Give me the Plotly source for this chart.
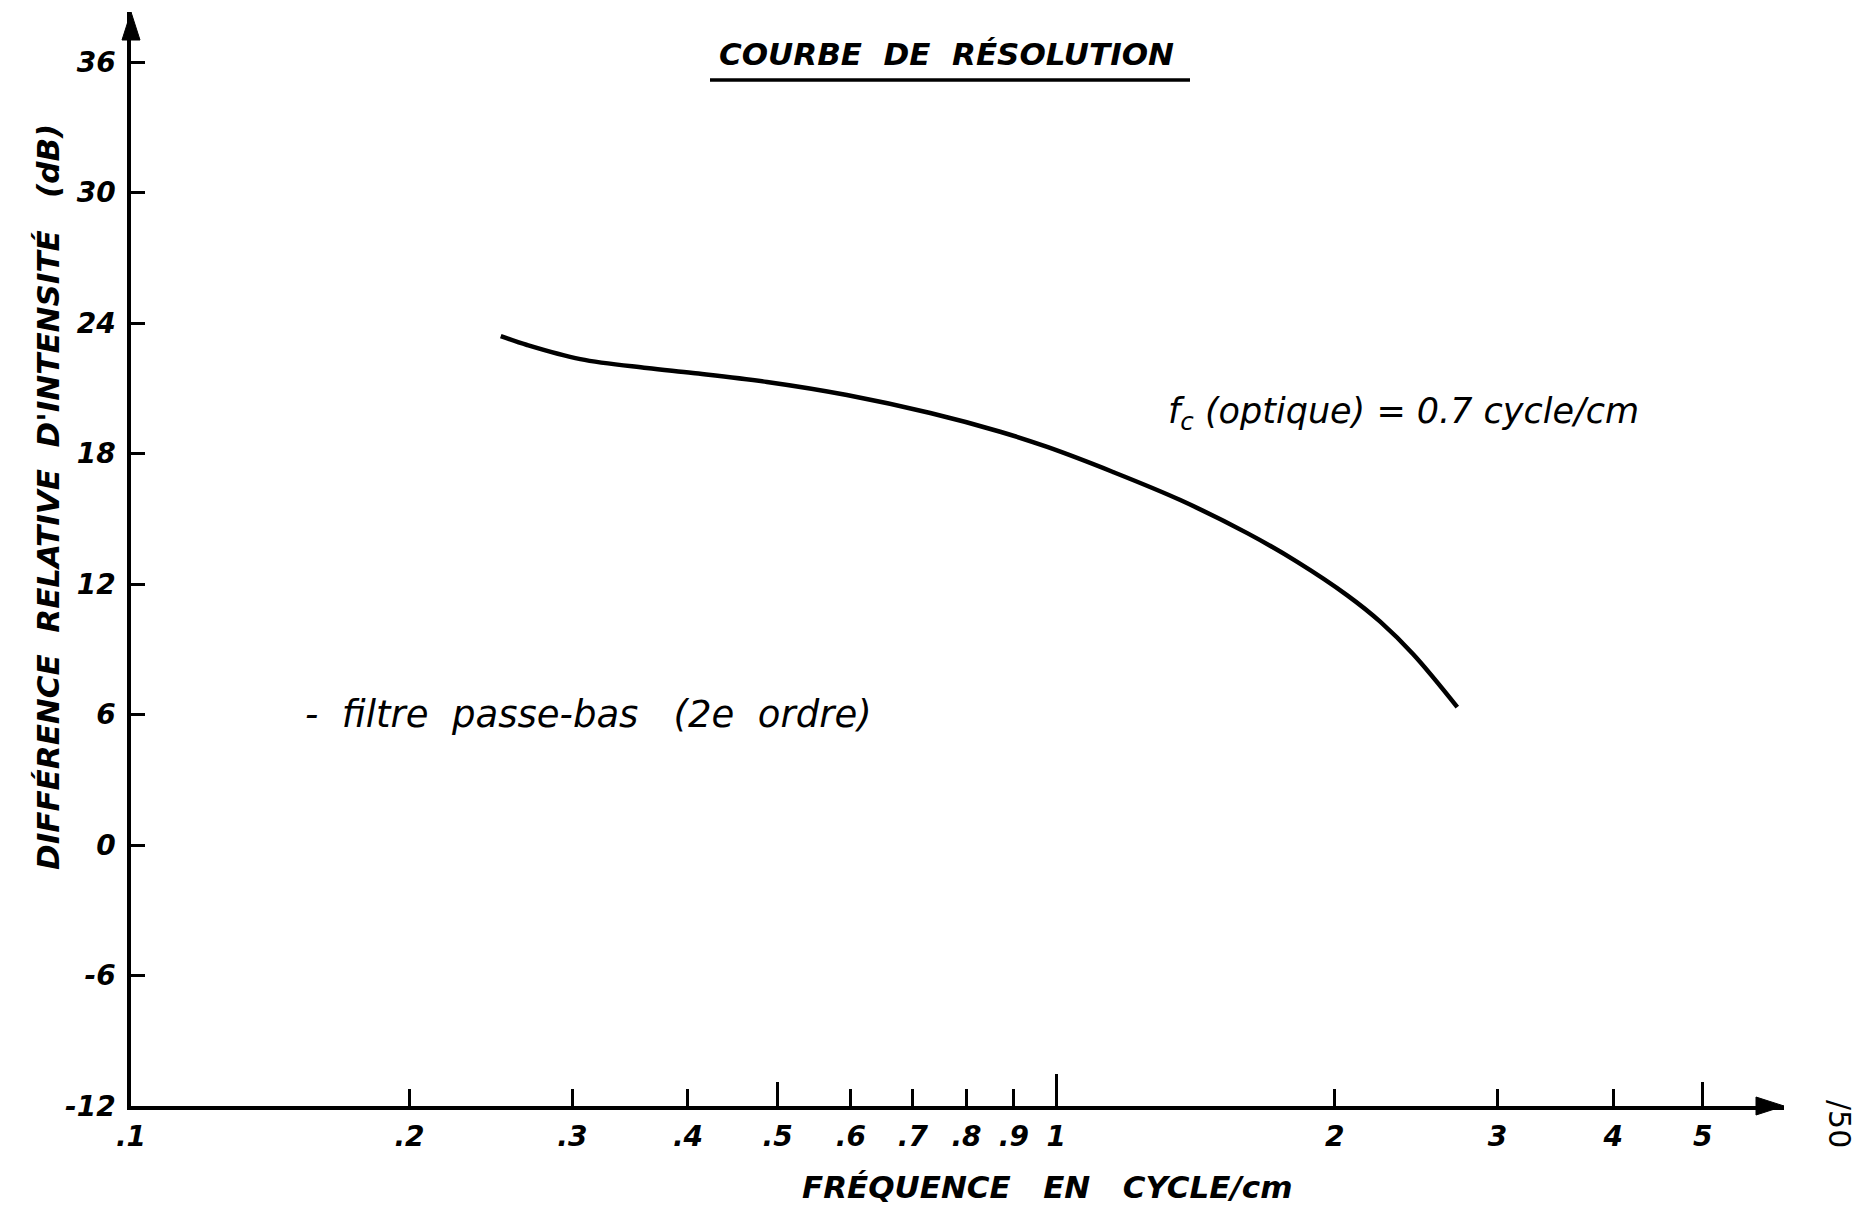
import math
import plotly.graph_objects as go

# Résolution : différence relative d'intensité en fonction de la fréquence
freq_cycle_cm = [0.251, 0.268, 0.306, 0.361, 0.405, 0.487, 0.594, 0.731, 0.870,
                 0.978, 1.152, 1.362, 1.609, 1.822, 2.064, 2.240, 2.432, 2.714]
diff_db = [23.40, 22.99, 22.34, 21.93, 21.70, 21.29, 20.69, 19.86, 19.00,
           18.30, 17.15, 15.86, 14.34, 13.02, 11.48, 10.27, 8.77, 6.34]

x_tick_vals = [0.1, 0.2, 0.3, 0.4, 0.5, 0.6, 0.7, 0.8, 0.9, 1, 2, 3, 4, 5]
x_tick_text = [".1", ".2", ".3", ".4", ".5", ".6", ".7", ".8", ".9", "1", "2", "3", "4", "5"]
x_mid_ticks = [0.5, 5]
x_decade_ticks = [1]
y_tick_vals = [-12, -6, 0, 6, 12, 18, 24, 30, 36]
y_tick_text = ["-12", "-6", "0", "6", "12", "18", "24", "30", "36"]

x_range = [math.log10(0.1), math.log10(6.12)]
y_range = [-12, 38.3]

INK = "#000000"
HAND = "DejaVu Sans, Liberation Sans, sans-serif"

# plot area in pixels (used to place the free-standing labels)
W, H = 1865, 1209
L, R, T, B = 131, 81, 12, 103
PW, PH = W - L - R, H - T - B


def px_x(px):
    return (px - L) / PW


def px_y(py):
    return (H - B - py) / PH


fig = go.Figure()
fig.add_trace(go.Scatter(
    x=freq_cycle_cm, y=diff_db, mode="lines",
    line=dict(color=INK, width=4.5, shape="spline", smoothing=1.0),
    showlegend=False, hoverinfo="skip",
))

tick_font = dict(family=HAND, size=28, color=INK, weight="bold", style="italic")

common_x = dict(type="log", range=x_range, showgrid=False, zeroline=False)

fig.update_layout(
    width=W, height=H,
    margin=dict(l=L, r=R, t=T, b=B),
    paper_bgcolor="white", plot_bgcolor="white",
    showlegend=False,
    xaxis=dict(
        **common_x,
        tickvals=x_tick_vals, ticktext=x_tick_text,
        ticks="inside", ticklen=17, tickwidth=3, tickcolor=INK,
        showline=True, linecolor=INK, linewidth=3.5,
        tickfont=tick_font, ticklabelstandoff=3,
    ),
    xaxis2=dict(
        **common_x, overlaying="x", anchor="y",
        tickvals=x_mid_ticks, ticks="inside", ticklen=24, tickwidth=3,
        tickcolor=INK, showticklabels=False, showline=False,
    ),
    xaxis3=dict(
        **common_x, overlaying="x", anchor="y",
        tickvals=x_decade_ticks, ticks="inside", ticklen=32, tickwidth=3,
        tickcolor=INK, showticklabels=False, showline=False,
    ),
    yaxis=dict(
        range=y_range, tickvals=y_tick_vals, ticktext=y_tick_text,
        ticks="inside", ticklen=14, tickwidth=3, tickcolor=INK,
        showline=True, linecolor=INK, linewidth=3.5,
        showgrid=False, zeroline=False,
        tickfont=tick_font, ticklabelstandoff=6,
    ),
)

# invisible traces so the overlay axes are drawn
for ax in ("x2", "x3"):
    fig.add_trace(go.Scatter(x=[0.1], y=[None], xaxis=ax, yaxis="y",
                             mode="lines", showlegend=False, hoverinfo="skip"))

# filled arrowheads at the ends of both axes
head_len, head_half = 28, 9
hx, hy = head_len / PW, head_half / PH
vx, vy = head_half / PW, head_len / PH
fig.add_shape(type="path", xref="paper", yref="paper",
              path=f"M 1 0 L {1 - hx} {hy} L {1 - hx} {-hy} Z",
              fillcolor=INK, line=dict(color=INK, width=1))
fig.add_shape(type="path", xref="paper", yref="paper",
              path=f"M 0 1 L {-vx} {1 - vy} L {vx} {1 - vy} Z",
              fillcolor=INK, line=dict(color=INK, width=1))

# title with underline
fig.add_annotation(
    xref="paper", yref="paper", x=px_x(946), y=px_y(54),
    xanchor="center", yanchor="middle", showarrow=False,
    text="COURBE  DE  RÉSOLUTION",
    font=dict(family=HAND, size=31, color=INK, weight="bold", style="italic"),
)
fig.add_shape(type="line", xref="paper", yref="paper",
              x0=px_x(710), x1=px_x(1190), y0=px_y(80), y1=px_y(80),
              line=dict(color=INK, width=3.5))

# axis titles
fig.add_annotation(
    xref="paper", yref="paper", x=px_x(48), y=px_y(497),
    xanchor="center", yanchor="middle", showarrow=False, textangle=-90,
    text="DIFFÉRENCE  RELATIVE  D'INTENSITÉ   (dB)",
    font=dict(family=HAND, size=31, color=INK, weight="bold", style="italic"),
)
fig.add_annotation(
    xref="paper", yref="paper", x=px_x(1047), y=px_y(1187),
    xanchor="center", yanchor="middle", showarrow=False,
    text="FRÉQUENCE   EN   CYCLE/cm",
    font=dict(family=HAND, size=31, color=INK, weight="bold", style="italic"),
)

# notes
fig.add_annotation(
    xref="paper", yref="paper", x=px_x(1166), y=px_y(413),
    xanchor="left", yanchor="middle", showarrow=False,
    text="f<sub>c</sub> (optique) = 0.7 cycle/cm",
    font=dict(family=HAND, size=35, color=INK, style="italic"),
)
fig.add_annotation(
    xref="paper", yref="paper", x=px_x(303), y=px_y(714),
    xanchor="left", yanchor="middle", showarrow=False,
    text="-  filtre  passe-bas   (2e  ordre)",
    font=dict(family=HAND, size=37, color=INK, style="italic"),
)
fig.add_annotation(
    xref="paper", yref="paper", x=px_x(1840), y=px_y(1124),
    xanchor="center", yanchor="middle",
    showarrow=False, textangle=90, text="/50",
    font=dict(family=HAND, size=30, color=INK),
)

fig.write_html("out.html")
